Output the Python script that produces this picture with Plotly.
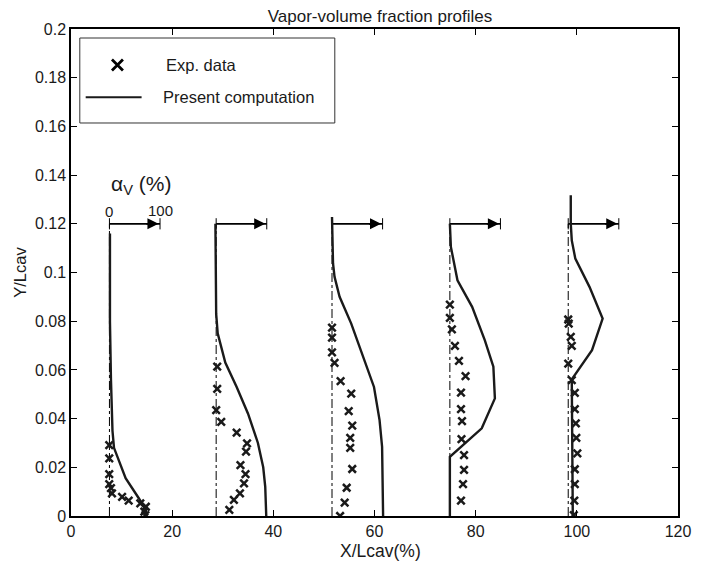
import plotly.graph_objects as go

# ---------------- data ----------------
baselines = [7.6, 28.7, 51.6, 74.9, 98.3]   # X/Lcav (%) of each station
alpha_scale = 10.0                           # x-units per 100 % of alpha_v
arrow_y = 0.12

comp_x1 = [7.7, 7.7, 7.9, 8.2, 8.5, 10.8, 13.4, 14.8, 14.8]
comp_y1 = [0.116, 0.08, 0.056, 0.035, 0.028, 0.0155, 0.0073, 0.0025, 0.0]
comp_x2 = [28.55, 28.6, 28.7, 29.0, 30.5, 32.75, 35.0, 36.95, 38.0, 38.4, 38.6]
comp_y2 = [0.12, 0.10, 0.083, 0.075, 0.063, 0.053, 0.042, 0.030, 0.020, 0.012, 0.0]
comp_x3 = [51.6, 51.8, 52.1, 53.1, 55.4, 57.6, 59.9, 61.0, 61.5, 61.7]
comp_y3 = [0.1228, 0.1037, 0.0982, 0.090, 0.079, 0.0667, 0.053, 0.0394, 0.0284, 0.0]
comp_x4 = [74.9, 75.1, 76.4, 79.3, 81.8, 83.5, 83.8, 81.2, 74.9, 74.9]
comp_y4 = [0.120, 0.1105, 0.0968, 0.0859, 0.0722, 0.0613, 0.0483, 0.036, 0.0243, 0.0]
comp_x5 = [98.8, 98.8, 99.0, 99.7, 102.5, 105.1, 103.0, 99.0, 99.2]
comp_y5 = [0.1317, 0.120, 0.1132, 0.1057, 0.0941, 0.0811, 0.0681, 0.0561, 0.0]

exp_x1 = [7.56, 7.56, 7.56, 7.56, 7.9, 8.1, 10.1, 11.4, 13.7, 14.8, 14.5, 14.7]
exp_y1 = [0.0291, 0.0237, 0.0172, 0.0131, 0.0114, 0.0093, 0.0079, 0.0063, 0.0052, 0.0038, 0.0018, 0.0004]
exp_x2 = [28.9, 28.9, 28.7, 29.7, 32.75, 34.8, 34.6, 33.5, 34.5, 34.2, 33.4, 32.2, 31.3]
exp_y2 = [0.0613, 0.0522, 0.0435, 0.0387, 0.0342, 0.0298, 0.0264, 0.0209, 0.0172, 0.0134, 0.0093, 0.0066, 0.0025]
exp_x3 = [51.6, 51.6, 51.6, 52.1, 53.3, 55.4, 54.9, 55.6, 55.2, 55.2, 55.6, 54.5, 54.1, 53.2]
exp_y3 = [0.0774, 0.0733, 0.0672, 0.0629, 0.0554, 0.0503, 0.0431, 0.0371, 0.0321, 0.028, 0.0193, 0.0116, 0.0055, 0.0]
exp_x4 = [74.9, 74.9, 75.3, 75.9, 76.7, 78.0, 77.1, 77.1, 77.3, 77.2, 77.7, 77.7, 77.5, 77.1]
exp_y4 = [0.0868, 0.0814, 0.0766, 0.0699, 0.0637, 0.0574, 0.0507, 0.0439, 0.039, 0.0316, 0.025, 0.0189, 0.0131, 0.0063]
exp_x5 = [98.3, 98.4, 98.8, 99.0, 98.3, 99.0, 99.6, 99.6, 99.8, 99.9, 100.1, 99.6, 99.6, 99.5, 99.4]
exp_y5 = [0.0807, 0.079, 0.0736, 0.0699, 0.0626, 0.0558, 0.0506, 0.0439, 0.038, 0.0321, 0.0257, 0.0192, 0.0131, 0.0063, 0.0004]

x_ticks = [0, 20, 40, 60, 80, 100, 120]
y_ticks = [0, 0.02, 0.04, 0.06, 0.08, 0.1, 0.12, 0.14, 0.16, 0.18, 0.2]
y_tick_labels = ["0", "0.02", "0.04", "0.06", "0.08", "0.1", "0.12", "0.14", "0.16", "0.18", "0.2"]

comp_x = [comp_x1, comp_x2, comp_x3, comp_x4, comp_x5]
comp_y = [comp_y1, comp_y2, comp_y3, comp_y4, comp_y5]
exp_x = [exp_x1, exp_x2, exp_x3, exp_x4, exp_x5]
exp_y = [exp_y1, exp_y2, exp_y3, exp_y4, exp_y5]

# ---------------- figure ----------------
FONT = "Liberation Sans, Arial, Helvetica, sans-serif"
INK = "#1a1a1a"
fig = go.Figure()

# dash-dot baselines
for b in baselines:
    fig.add_trace(go.Scatter(x=[b, b], y=[0, arrow_y], mode="lines",
                             line=dict(color="black", width=1, dash="dashdot"),
                             showlegend=False, hoverinfo="skip"))

# arrows (alpha scale) with small end ticks
for b in baselines:
    fig.add_trace(go.Scatter(x=[b, b + alpha_scale], y=[arrow_y, arrow_y], mode="lines+markers",
                             line=dict(color="black", width=1.8),
                             marker=dict(symbol="line-ns", size=8, line=dict(color="black", width=1)),
                             showlegend=False, hoverinfo="skip"))
    fig.add_annotation(x=b + alpha_scale - 0.3, y=arrow_y, ax=b + alpha_scale - 3, ay=arrow_y,
                       xref="x", yref="y", axref="x", ayref="y", text="",
                       showarrow=True, arrowhead=2, arrowsize=1.3, arrowwidth=1.7, arrowcolor="black")

# computations
for cx, cy in zip(comp_x, comp_y):
    fig.add_trace(go.Scatter(x=cx, y=cy, mode="lines", line=dict(color=INK, width=2.4),
                             showlegend=False))

# experiments
for ex, ey in zip(exp_x, exp_y):
    fig.add_trace(go.Scatter(x=ex, y=ey, mode="markers",
                             marker=dict(symbol="x-thin", size=7.5, line=dict(color=INK, width=2.5)),
                             showlegend=False))

# ---- manual legend on overlay axes (0..1) ----
fig.add_trace(go.Scatter(x=[0.0765], y=[0.926], mode="markers", xaxis="x2", yaxis="y2",
                         marker=dict(symbol="x-thin", size=11, line=dict(color="black", width=2.8)),
                         showlegend=False, hoverinfo="skip"))
fig.add_trace(go.Scatter(x=[0.0242, 0.1163], y=[0.860, 0.860], mode="lines", xaxis="x2", yaxis="y2",
                         line=dict(color=INK, width=2), showlegend=False, hoverinfo="skip"))
fig.add_shape(type="rect", xref="paper", yref="paper", x0=0.0145, x1=0.4346, y0=0.807, y1=0.9815,
              line=dict(color="#333333", width=1), fillcolor="white", layer="below")
fig.add_annotation(x=0.1535, y=0.926, xref="paper", yref="paper", text="Exp. data", showarrow=False,
                   xanchor="left", yanchor="middle", font=dict(size=16.5, color=INK, family=FONT))
fig.add_annotation(x=0.1486, y=0.860, xref="paper", yref="paper", text="Present computation", showarrow=False,
                   xanchor="left", yanchor="middle", font=dict(size=16.5, color=INK, family=FONT))

# alpha scale labels
fig.add_annotation(x=baselines[0] + alpha_scale * 0.62, y=0.1358, xref="x", yref="y",
                   text="α<sub>V</sub> (%)", showarrow=False,
                   font=dict(size=21, color=INK, family=FONT))
fig.add_annotation(x=baselines[0], y=arrow_y, xref="x", yref="y", text="0", showarrow=False,
                   yanchor="bottom", yshift=2, font=dict(size=15, color=INK, family=FONT))
fig.add_annotation(x=baselines[0] + alpha_scale, y=arrow_y, xref="x", yref="y", text="100", showarrow=False,
                   yanchor="bottom", yshift=3, font=dict(size=15, color=INK, family=FONT))

# x-axis title (slightly right of centre, as in the reference)
fig.add_annotation(x=0.5097, y=-0.0719, xref="paper", yref="paper", text="X/Lcav(%)", showarrow=False,
                   xanchor="center", yanchor="middle", font=dict(size=17.5, color=INK, family=FONT))

axis_common = dict(showgrid=False, zeroline=False, showline=True, linecolor="black", linewidth=1.5,
                   mirror="ticks", ticks="inside", ticklen=6, tickcolor="black", tickwidth=1,
                   ticklabeloverflow="allow",
                   tickfont=dict(size=16, color=INK, family=FONT))

fig.update_layout(
    width=703, height=566,
    margin=dict(l=71, r=13, t=29, b=50),
    paper_bgcolor="white", plot_bgcolor="white",
    title=dict(text="Vapor-volume fraction profiles", x=0.5405, xanchor="center", y=0.971, yanchor="middle",
               font=dict(size=17, color=INK, family=FONT)),
    xaxis=dict(range=[0, 120], tickvals=x_ticks, **axis_common),
    yaxis=dict(range=[0, 0.2], tickvals=y_ticks, ticktext=y_tick_labels, **axis_common,
               title=dict(text="Y/Lcav", font=dict(size=16.5, color=INK, family=FONT), standoff=4)),
    xaxis2=dict(range=[0, 1], overlaying="x", visible=False),
    yaxis2=dict(range=[0, 1], overlaying="y", visible=False),
    showlegend=False,
)

fig.write_html("out.html")
